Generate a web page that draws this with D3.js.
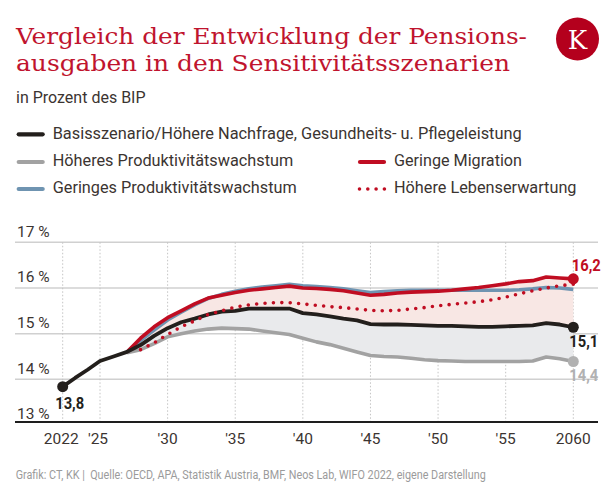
<!DOCTYPE html>
<html>
<head>
<meta charset="utf-8">
<script src="https://cdn.jsdelivr.net/npm/d3@7"></script>
<style>
  html, body { margin: 0; padding: 0; background: #fff; }
  svg { display: block; }
</style>
</head>
<body>
<svg id="chart" width="616" height="498"></svg>
<script>
// ---------- DATA ----------
const years = d3.range(2022, 2061);

const basis = [13.84, 14.03, 14.21, 14.40, 14.50, 14.60, 14.75, 14.95, 15.12, 15.25,
  15.33, 15.42, 15.48, 15.50, 15.55, 15.55, 15.55, 15.55, 15.45, 15.42,
  15.38, 15.33, 15.29, 15.21, 15.20, 15.20, 15.19, 15.18, 15.17, 15.17,
  15.16, 15.15, 15.15, 15.16, 15.17, 15.18, 15.23, 15.20, 15.14];

const hoeheresProd = [13.84, 14.03, 14.21, 14.40, 14.50, 14.58, 14.65, 14.78, 14.93, 15.00,
  15.06, 15.10, 15.12, 15.11, 15.10, 15.06, 15.02, 14.98, 14.90, 14.82,
  14.76, 14.68, 14.60, 14.52, 14.50, 14.49, 14.46, 14.43, 14.41, 14.40,
  14.39, 14.39, 14.39, 14.39, 14.39, 14.40, 14.49, 14.45, 14.39];

const geringesProd = [13.84, 14.03, 14.21, 14.40, 14.50, 14.60, 14.85, 15.08, 15.30, 15.47,
  15.63, 15.77, 15.86, 15.93, 15.98, 16.02, 16.05, 16.08, 16.05, 16.03,
  16.01, 15.98, 15.94, 15.90, 15.92, 15.94, 15.95, 15.95, 15.95, 15.95,
  15.95, 15.95, 15.95, 15.95, 15.96, 15.98, 16.01, 16.00, 15.97];

const geringeMigration = [13.84, 14.03, 14.21, 14.40, 14.50, 14.60, 14.90, 15.15, 15.35, 15.50,
  15.65, 15.78, 15.84, 15.90, 15.95, 15.98, 16.01, 16.04, 16.00, 15.99,
  15.97, 15.94, 15.89, 15.84, 15.86, 15.89, 15.91, 15.92, 15.93, 15.95,
  15.98, 16.01, 16.05, 16.09, 16.14, 16.16, 16.24, 16.22, 16.20];

const hoehereLebenserwartung = [13.84, 14.03, 14.21, 14.40, 14.50, 14.58, 14.65, 14.80, 14.98, 15.15,
  15.28, 15.42, 15.50, 15.58, 15.63, 15.66, 15.68, 15.68, 15.65, 15.62,
  15.59, 15.57, 15.54, 15.51, 15.50, 15.51, 15.54, 15.57, 15.61, 15.64,
  15.67, 15.70, 15.74, 15.80, 15.87, 15.94, 16.00, 16.05, 16.08];

const yTicks = [13, 14, 15, 16, 17];
const xTicks = [2022, 2025, 2030, 2035, 2040, 2045, 2050, 2055, 2060];
const xTickLabels = ["2022", "'25", "'30", "'35", "'40", "'45", "'50", "'55", "2060"];

const titleLines = ["Vergleich der Entwicklung der Pensions-", "ausgaben in den Sensitivitätsszenarien"];
const subtitle = "in Prozent des BIP";
const source = "Grafik: CT, KK |\u00a0 Quelle: OECD, APA, Statistik Austria, BMF, Neos Lab, WIFO 2022, eigene Darstellung";
const legendLabels = {
  basis: "Basisszenario/Höhere Nachfrage, Gesundheits- u. Pflegeleistung",
  hoeheresProd: "Höheres Produktivitätswachstum",
  geringesProd: "Geringes Produktivitätswachstum",
  geringeMigration: "Geringe Migration",
  hoehereLeben: "Höhere Lebenserwartung"
};

// ---------- STYLE ----------
const C = {
  red: "#c00d22",
  title: "#c0142e",
  black: "#231f1c",
  grey: "#a2a2a2",
  greyLabel: "#b1b1b1",
  blue: "#6f94b1",
  text: "#3b3431",
  grid: "#d0d0d0",
  pink: "#f8e7e4",
  greyFill: "#e9eaec",
  logo: "#b4001d"
};
const SANS = "Roboto, 'Noto Sans', sans-serif";

const svg = d3.select("#chart");

function fit(sel, w) {
  sel.each(function() {
    const n = this.getComputedTextLength();
    if (Math.abs(n - w) / w > 0.015) {
      d3.select(this).attr("textLength", w).attr("lengthAdjust", "spacingAndGlyphs");
    }
  });
  return sel;
}

// ---------- SCALES ----------
const x = d3.scaleLinear().domain([2022, 2025, 2060]).range([62.7, 100, 573.3]);
const y = d3.scaleLinear().domain([13, 17]).range([425, 242.3]);
const axisY = 422;
const gridX0 = 15, gridX1 = 598;

// ---------- TITLE ----------
svg.append("text").attr("x", 16).attr("y", 44)
  .attr("font-family", "'DejaVu Serif', serif").attr("font-size", 22.8)
  .attr("fill", C.title).text(titleLines[0]).call(fit, 511);
svg.append("text").attr("x", 16).attr("y", 71)
  .attr("font-family", "'DejaVu Serif', serif").attr("font-size", 22.8)
  .attr("fill", C.title).text(titleLines[1]).call(fit, 494);

// logo
svg.append("circle").attr("cx", 577.5).attr("cy", 39).attr("r", 21.5).attr("fill", C.logo);
svg.append("text").attr("x", 577.5).attr("y", 48.5).attr("text-anchor", "middle")
  .attr("font-family", "'DejaVu Serif', serif").attr("font-size", 26)
  .attr("fill", "#fff").text("K");

svg.append("text").attr("x", 16).attr("y", 103.3)
  .attr("font-family", SANS).attr("font-size", 16)
  .attr("fill", C.text).text(subtitle).call(fit, 130);

// ---------- LEGEND ----------
const legendItems = [
  { key: "basis", col: 0, row: 0, color: C.black, dotted: false, w: 469 },
  { key: "hoeheresProd", col: 0, row: 1, color: C.grey, dotted: false, w: 240.5 },
  { key: "geringesProd", col: 0, row: 2, color: C.blue, dotted: false, w: 244 },
  { key: "geringeMigration", col: 1, row: 1, color: C.red, dotted: false, w: 128 },
  { key: "hoehereLeben", col: 1, row: 2, color: C.red, dotted: true, w: 182.5 }
];
const legColX = [16.7, 358];
const legRowY = [134.3, 162, 189];
legendItems.forEach(it => {
  const lx = legColX[it.col], ly = legRowY[it.row];
  if (it.dotted) {
    svg.append("line").attr("x1", lx + 1.5).attr("x2", lx + 26.5).attr("y1", ly).attr("y2", ly)
      .attr("stroke", it.color).attr("stroke-width", 3.6).attr("stroke-linecap", "round")
      .attr("stroke-dasharray", "0,8.3");
  } else {
    svg.append("line").attr("x1", lx + 2).attr("x2", lx + 26).attr("y1", ly).attr("y2", ly)
      .attr("stroke", it.color).attr("stroke-width", 4.2).attr("stroke-linecap", "round");
  }
  svg.append("text").attr("x", lx + 36).attr("y", ly + 4.4)
    .attr("font-family", SANS).attr("font-size", 16.8)
    .attr("fill", C.text).text(legendLabels[it.key]).call(fit, it.w);
});

// ---------- GRID ----------
const g = svg.append("g");
g.selectAll(".hgrid").data(yTicks.filter(d => d > 13)).join("line")
  .attr("x1", gridX0).attr("x2", gridX1)
  .attr("y1", d => y(d)).attr("y2", d => y(d))
  .attr("stroke", C.grid).attr("stroke-width", 1.5);

g.selectAll(".vgrid").data(xTicks).join("line")
  .attr("x1", d => x(d)).attr("x2", d => x(d))
  .attr("y1", y(17)).attr("y2", axisY)
  .attr("stroke", "#c4c4c4").attr("stroke-width", 1).attr("stroke-dasharray", "1.5,2");

g.selectAll(".ylab").data(yTicks).join("text")
  .attr("x", 17).attr("y", d => (d === 13 ? y(d) - 6.5 : y(d) - 5.5))
  .attr("font-family", SANS).attr("font-size", 15.5)
  .attr("fill", C.text).text(d => d + " %");

// ---------- AREAS ----------
const rows = years.map((yr, i) => ({
  yr, b: basis[i], hp: hoeheresProd[i], gp: geringesProd[i], gm: geringeMigration[i], hl: hoehereLebenserwartung[i]
}));
const sub = rows.filter(r => r.yr >= 2027);

g.append("path").datum(sub)
  .attr("d", d3.area().x(d => x(d.yr)).y0(d => y(d.b)).y1(d => y(d.gm)))
  .attr("fill", C.pink);
g.append("path").datum(sub)
  .attr("d", d3.area().x(d => x(d.yr)).y0(d => y(d.hp)).y1(d => y(d.b)))
  .attr("fill", C.greyFill);

// x axis line
g.append("line").attr("x1", gridX0).attr("x2", gridX1).attr("y1", axisY).attr("y2", axisY)
  .attr("stroke", "#1e1e1e").attr("stroke-width", 2);

g.selectAll(".xlab").data(xTicks).join("text")
  .attr("x", d => x(d) + (d === 2022 ? -1.5 : d === 2025 ? -2 : 0)).attr("y", 443.5)
  .attr("text-anchor", "middle")
  .attr("font-family", SANS).attr("font-size", 15.5)
  .attr("fill", C.text).text((d, i) => xTickLabels[i]);

// ---------- LINES ----------
const line = key => d3.line().x(d => x(d.yr)).y(d => y(d[key])).curve(d3.curveLinear);

g.append("path").datum(sub).attr("d", line("hp"))
  .attr("fill", "none").attr("stroke", C.grey).attr("stroke-width", 3.6).attr("stroke-linejoin", "round");
g.append("path").datum(sub).attr("d", line("gp"))
  .attr("fill", "none").attr("stroke", C.blue).attr("stroke-width", 3.6).attr("stroke-linejoin", "round");
g.append("path").datum(sub).attr("d", line("gm"))
  .attr("fill", "none").attr("stroke", C.red).attr("stroke-width", 3.6).attr("stroke-linejoin", "round");
g.append("path").datum(rows).attr("d", line("b"))
  .attr("fill", "none").attr("stroke", C.black).attr("stroke-width", 3.8).attr("stroke-linejoin", "round");
g.append("path").datum(sub.filter(d => d.yr >= 2028)).attr("d", line("hl"))
  .attr("fill", "none").attr("stroke", C.red).attr("stroke-width", 3.6)
  .attr("stroke-linecap", "round").attr("stroke-dasharray", "0,8.4");

// ---------- END DOTS & LABELS ----------
const last = rows[rows.length - 1], first = rows[0];
g.append("circle").attr("cx", x(first.yr)).attr("cy", y(first.b)).attr("r", 5.5).attr("fill", C.black);
g.append("circle").attr("cx", x(last.yr)).attr("cy", y(last.hp)).attr("r", 5.5).attr("fill", C.greyLabel);
g.append("circle").attr("cx", x(last.yr)).attr("cy", y(last.b)).attr("r", 5.5).attr("fill", C.black);
g.append("circle").attr("cx", x(last.yr)).attr("cy", y(last.gm)).attr("r", 5.5).attr("fill", C.red);

const fmt = v => d3.format(".1f")(v).replace(".", ",");
const lab = (tx, ty, txt, col, anchor) => g.append("text").attr("x", tx).attr("y", ty)
  .attr("text-anchor", anchor || "start")
  .attr("font-family", SANS).attr("font-weight", "bold").attr("font-size", 17)
  .attr("fill", col).text(txt).call(fit, 29);

lab(x(first.yr) - 7.5, y(first.b) + 22.5, fmt(13.8), C.black);
lab(x(last.yr) - 1.5, y(last.gm) - 8, fmt(16.2), C.red);
lab(x(last.yr) - 4, y(last.b) + 20, fmt(15.1), C.black);
lab(x(last.yr) - 4, y(last.hp) + 19, fmt(14.4), C.greyLabel);

// ---------- SOURCE ----------
svg.append("text").attr("x", 15.7).attr("y", 479)
  .attr("font-family", SANS).attr("font-size", 12)
  .attr("fill", "#9b9b9b").text(source).call(fit, 470);
</script>
</body>
</html>
